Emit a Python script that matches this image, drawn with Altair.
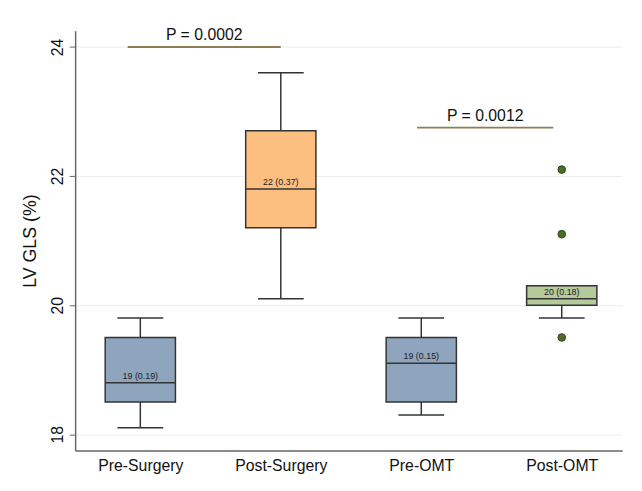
import altair as alt
import pandas as pd

categories = ["Pre-Surgery", "Post-Surgery", "Pre-OMT", "Post-OMT"]
positions = [1, 2, 3, 4]
lower_whisker = [18.1, 20.1, 18.3, 19.8]
q1 = [18.5, 21.2, 18.5, 20.0]
median = [18.8, 21.8, 19.1, 20.1]
q3 = [19.5, 22.7, 19.5, 20.3]
upper_whisker = [19.8, 23.6, 19.8, 20.3]
box_labels = ["19 (0.19)", "22 (0.37)", "19 (0.15)", "20 (0.18)"]
box_colors = ["#8FA5BE", "#FDBF80", "#8FA5BE", "#B5CA9A"]

outlier_group = [4, 4, 4]
outlier_values = [22.1, 21.1, 19.5]

p_texts = ["P = 0.0002", "P = 0.0012"]
p_start = [0.91, 2.97]
p_end = [2.0, 3.94]
p_y = [24.0, 22.75]

HALF_BOX = 0.25
HALF_CAP = 0.163
FONT = "Liberation Sans"

df = pd.DataFrame({
    "cat": categories, "pos": positions, "lw": lower_whisker, "q1": q1,
    "med": median, "q3": q3, "uw": upper_whisker, "label": box_labels,
    "color": box_colors,
})
df["bx0"] = df["pos"] - HALF_BOX
df["bx1"] = df["pos"] + HALF_BOX
df["cx0"] = df["pos"] - HALF_CAP
df["cx1"] = df["pos"] + HALF_CAP

out_df = pd.DataFrame({"pos": outlier_group, "v": outlier_values})
p_df = pd.DataFrame({"t": p_texts, "x0": p_start, "x1": p_end, "y": p_y})
p_df["xm"] = (p_df["x0"] + p_df["x1"]) / 2

label_expr = " : ".join(
    [f"datum.value == {p} ? '{c}'" for p, c in zip(positions, categories)]
) + " : ''"

xscale = alt.Scale(domain=[0.536, 4.43], nice=False, zero=False)
yscale = alt.Scale(domain=[17.75, 24.25], nice=False, zero=False)

x_axis = alt.Axis(
    values=positions, labelExpr=label_expr, title=None, grid=False,
    ticks=False, labelPadding=7, labelFontSize=16, labelFont=FONT,
    labelColor="#111", domainColor="#666", domainWidth=1.5,
)
y_axis = alt.Axis(
    values=[18, 20, 22, 24], format="d", title="LV GLS (%)", grid=True, gridColor="#EAEEF1",
    labelAngle=270, labelAlign="center", labelBaseline="bottom", labelPadding=4,
    tickSize=6, tickColor="#666", domainColor="#666", domainWidth=1.5,
    labelFontSize=16, labelFont=FONT, labelColor="#111",
    titleFontSize=18, titleFont=FONT, titleFontWeight="normal", titleColor="#111",
    titlePadding=10,
)

base = alt.Chart(df)

axes = base.mark_point(opacity=0).encode(
    x=alt.X("pos:Q", scale=xscale, axis=x_axis),
    y=alt.Y("med:Q", scale=yscale, axis=y_axis),
)

whisk_up = base.mark_rule(color="#333", strokeWidth=1.5).encode(
    x=alt.X("pos:Q", scale=xscale), y=alt.Y("q3:Q", scale=yscale), y2="uw:Q"
)
whisk_dn = base.mark_rule(color="#333", strokeWidth=1.5).encode(
    x=alt.X("pos:Q", scale=xscale), y=alt.Y("lw:Q", scale=yscale), y2="q1:Q"
)
cap_up = base.transform_filter("datum.uw > datum.q3").mark_rule(color="#333", strokeWidth=1.5).encode(
    x=alt.X("cx0:Q", scale=xscale), x2="cx1:Q", y=alt.Y("uw:Q", scale=yscale)
)
cap_dn = base.mark_rule(color="#333", strokeWidth=1.5).encode(
    x=alt.X("cx0:Q", scale=xscale), x2="cx1:Q", y=alt.Y("lw:Q", scale=yscale)
)
boxes = base.mark_rect(stroke="#333", strokeWidth=1.5).encode(
    x=alt.X("bx0:Q", scale=xscale), x2="bx1:Q",
    y=alt.Y("q1:Q", scale=yscale), y2="q3:Q",
    fill=alt.Fill("color:N", scale=None),
)
med_line = base.mark_rule(color="#333", strokeWidth=1.5).encode(
    x=alt.X("bx0:Q", scale=xscale), x2="bx1:Q", y=alt.Y("med:Q", scale=yscale)
)
med_text = base.mark_text(fontSize=9, font=FONT, color="#222", baseline="bottom", dy=-2).encode(
    x=alt.X("pos:Q", scale=xscale), y=alt.Y("med:Q", scale=yscale), text="label:N"
)

outliers = alt.Chart(out_df).mark_circle(size=60, color="#4F6B2A", stroke="#2F4515", strokeWidth=1, opacity=1).encode(
    x=alt.X("pos:Q", scale=xscale), y=alt.Y("v:Q", scale=yscale)
)

p_lines = alt.Chart(p_df).mark_rule(color="#8C7E55", strokeWidth=2).encode(
    x=alt.X("x0:Q", scale=xscale), x2="x1:Q", y=alt.Y("y:Q", scale=yscale)
)
p_text = alt.Chart(p_df).mark_text(fontSize=16, font=FONT, color="#111", baseline="bottom", dy=-4).encode(
    x=alt.X("xm:Q", scale=xscale), y=alt.Y("y:Q", scale=yscale), text="t:N"
)

chart = alt.layer(
    axes, whisk_up, whisk_dn, cap_up, cap_dn, boxes, med_line, med_text,
    outliers, p_lines, p_text,
).properties(
    width=554, height=425,
    autosize=alt.AutoSizeParams(type="none"),
    padding={"left": 68, "top": 20, "right": 12, "bottom": 38},
    background="white",
).configure_view(stroke=None)

chart.save("out.html", embed_options={"renderer": "svg", "actions": False})
